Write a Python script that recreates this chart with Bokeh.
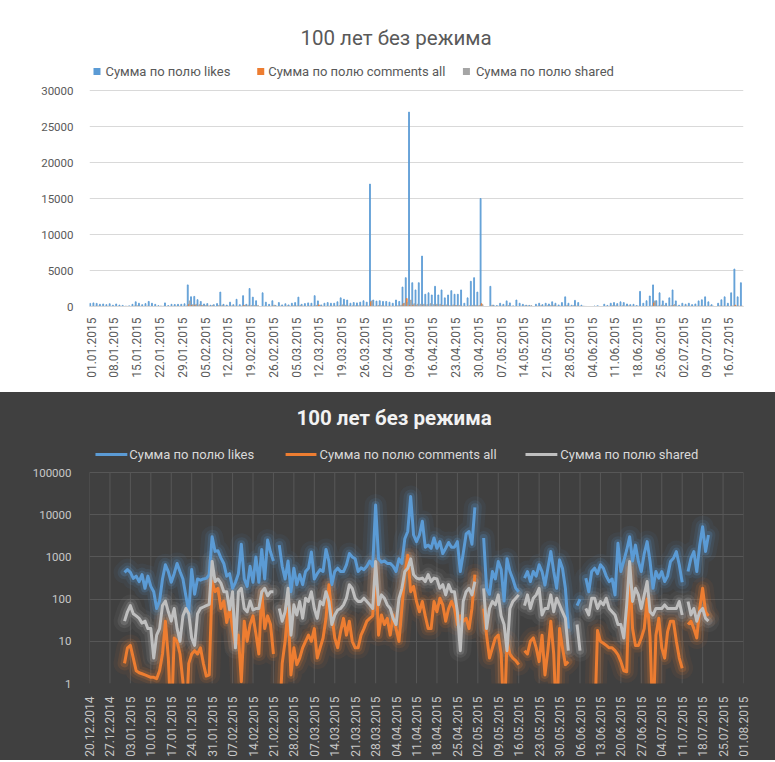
import numpy as np
from datetime import date
from bokeh.plotting import figure
from bokeh.layouts import column
from bokeh.models import Range1d, FixedTicker, PrintfTickFormatter, Label, ColumnDataSource
from bokeh.embed import file_html
from bokeh.resources import INLINE

nan = float("nan")

# ---------------- data (daily, starting 01.01.2015) ----------------
first_day = date(2015, 1, 1)

likes = [430, 500, 430, 310, 350, 260, 380, 180, 350, 200, 150, 60, 90, 300, 650, 450, 250, 400, 700, 450,
         300, 120, 50, 500, 130, 300, 280, 300, 310, 380, 3000, 1350, 1400, 950, 700, 350, 400, 180, 250, 400,
         2000, 300, 200, 600, 250, 1000, 250, 1500, 300, 2500, 1300, 800, nan, 1900, 600, 300,
         800, 150, 540, 220, 380, 220, 450, 540, 1300, 300, 400, 500, 450, 1500, 780, 220, 450, 540, 450, 450,
         650, 1200, 1000, 900, 450, 550, 500, 600, 800, 600, 17000, 900, 750, 800, 700, 700, 600, 450, 900, 700,
         2700, 4000, 27000, 3300, 2300, 3300, 7000, 1700, 1900, 1600, 2800, 1600, 2300, 1200, 1600, 2200, 1700,
         1700, 2300, 450, 1200, 3500, 4000, 2000, 15000, nan, nan, 2800, 180, 130, 450, 300, 780, 500, 90, 900,
         450, 300, 180, 150,
         nan, 315, 450, 260, 450, 350, 650, 450, 215, 540, 1340, 450, 180, 850, 540, 180, 20, nan, nan, 70, 100,
         nan, 315, 150, 450, 540, 400, 650, 540, 350, 260, 300, 126, 2100, 450, 800, 1460, 3000, 800, 1900, 780,
         450, 1200, 2300, 780, 180, 450, 315, 450, 260, 350, 780, 930, 1340, 650, 250, nan, 450, 930, 1340, 450,
         1900, 5200, 1340, 3300]

comments = [3, 7, 8, 4, 2, 1.8, 1.7, 1.6, 1.5, 1.4, 1.4, 1.3, 2, 5, 30, 4, 0, 12, 10, 5,
            1.1, 0, 3, 5, 6, 5, 7, 3, 1.5, 1.6, 260, 150, 180, 60, 90, 28, 60, 20, 8, 14,
            1.1, 30, 10, 25, 40, 15, 5, 150, 20, 40, 25, 5, nan, 0, 3, 10,
            60, 1.6, 7, 2.8, 4, 7, 10, 14, 10, 20, 4, 7, 12, 35, 220, 42, 12, 7, 17, 35,
            14, 30, 10, 7, 7, 14, 20, 30, 35, 40, 650, 14, 42, 25, 35, 14, 42, 20, 10, 60,
            380, 1100, 150, 200, 88, 50, 88, 40, 20, 20, 88, 50, 105, 73, 30, 60, 88, 60, 25, 40,
            30, 35, 20, 60, 380, nan, nan, 60, 14, 4, 7, 12, 14, 5, 0, 10, 5, 4, 3.5, 2.8,
            nan, 6, 5, 10, 12, 7, 3.3, 14, 1.6, 6, 30, 5, 0, 20, 7, 2.8, 3.3, nan, nan, nan,
            nan, nan, nan, nan, nan, 0, 18, 10, 9, 8, 7, 7, 6, 4.8, 3.3, 2, 1.9, 500, 20, 8,
            8, 12, 20, 100, 12, 0, 14, 35, 7, 4, 17, 30, 30, 10, 4, 2.3, nan, 25, 30, 20,
            12, 60, 180, 50, 40]

shared = [30, 50, 70, 45, 40, 35, 27, 30, 20, 20, 4, 14, 20, 70, 90, 50, 30, 60, 20, 10,
          40, 60, 45, 12, 8, 45, 60, 65, 70, 75, 780, 260, 300, 240, 150, 150, 56, 150, 7, 150,
          180, 60, 50, 90, 55, 60, 60, 150, 180, 120, 150, 150, nan, 60, 30, 50,
          180, 14, 73, 42, 88, 35, 105, 88, 150, 60, 35, 88, 73, 150, 88, 25, 42, 55, 60, 73,
          105, 220, 180, 105, 88, 88, 105, 88, 73, 60, 780, 73, 126, 105, 73, 60, 35, 25, 105, 180,
          450, 540, 900, 380, 315, 300, 315, 260, 380, 260, 315, 300, 180, 220, 126, 220, 150, 150, 50, 6,
          88, 150, 180, 126, 260, nan, nan, 180, 20, 60, 88, 73, 126, 40, 25, 6, 60, 88, 105, 126,
          nan, 70, 126, 60, 105, 126, 180, 42, 60, 60, 126, 50, 105, 73, 50, 35, 6, nan, nan, 25,
          6, nan, 60, 42, 105, 105, 60, 88, 73, 105, 60, 50, 42, 25, 25, 12, 73, 780, 88, 180,
          126, 60, 126, 260, 50, 42, 60, 60, 60, 73, 60, 60, 60, 60, 88, 42, nan, 88, 42, 60,
          30, 50, 60, 35, 30]

series_names = ["Сумма по полю likes", "Сумма по полю comments all", "Сумма по полю shared"]
chart_title = "100 лет без режима"

top_tick_labels = ["01.01.2015", "08.01.2015", "15.01.2015", "22.01.2015", "29.01.2015", "05.02.2015",
                   "12.02.2015", "19.02.2015", "26.02.2015", "05.03.2015", "12.03.2015", "19.03.2015",
                   "26.03.2015", "02.04.2015", "09.04.2015", "16.04.2015", "23.04.2015", "30.04.2015",
                   "07.05.2015", "14.05.2015", "21.05.2015", "28.05.2015", "04.06.2015", "11.06.2015",
                   "18.06.2015", "25.06.2015", "02.07.2015", "09.07.2015", "16.07.2015"]
bottom_tick_labels = ["20.12.2014", "27.12.2014", "03.01.2015", "10.01.2015", "17.01.2015", "24.01.2015",
                      "31.01.2015", "07.02.2015", "14.02.2015", "21.02.2015", "28.02.2015", "07.03.2015",
                      "14.03.2015", "21.03.2015", "28.03.2015", "04.04.2015", "11.04.2015", "18.04.2015",
                      "25.04.2015", "02.05.2015", "09.05.2015", "16.05.2015", "23.05.2015", "30.05.2015",
                      "06.06.2015", "13.06.2015", "20.06.2015", "27.06.2015", "04.07.2015", "11.07.2015",
                      "18.07.2015", "25.07.2015", "01.08.2015"]
top_y_ticks = [0, 5000, 10000, 15000, 20000, 25000, 30000]
log_y_ticks = [1, 10, 100, 1000, 10000, 100000]

# ---------------- helpers ----------------
def day_offset(label):
    d, m, y = (int(s) for s in label.split("."))
    return (date(y, m, d) - first_day).days

FONT = "Roboto"
BLUE, ORANGE, GRAY = "#5B9BD5", "#ED7D31", "#A5A5A5"
GRAY_DARK = "#BFBFBF"
W = 775

n = len(likes)
x = np.arange(n, dtype=float)
L = np.array(likes, dtype=float)
C = np.array(comments, dtype=float)
S = np.array(shared, dtype=float)

# ======================= TOP: column chart =======================
T_LEFT, T_RIGHT, T_TOP, T_BOT, T_H = 88, 32, 6, 86, 392
t_frame_w = W - T_LEFT - T_RIGHT
t_frame_h = T_H - T_TOP - T_BOT
t_scale = 30000 / 216.0
x1_range = Range1d(-0.5, n - 0.5)
y1_range = Range1d(0, t_frame_h * t_scale)


def top_pt(px, py):
    """page pixel -> data coords of the top chart (for title/legend placement)"""
    xd = x1_range.start + (px - T_LEFT) * (x1_range.end - x1_range.start) / t_frame_w
    yd = (T_H - T_BOT - py) * t_scale
    return xd, yd


p1 = figure(width=W, height=T_H, output_backend="svg", toolbar_location=None,
            x_range=x1_range, y_range=y1_range,
            min_border_left=T_LEFT, min_border_right=T_RIGHT, min_border_top=T_TOP, min_border_bottom=T_BOT)
p1.outline_line_color = None
p1.background_fill_color = "white"
p1.border_fill_color = "white"

bar_src = ColumnDataSource(dict(xl=x - 0.3, xc=x, xs=x + 0.3,
                                likes=np.nan_to_num(L), comments=np.nan_to_num(C), shared=np.nan_to_num(S)))
p1.vbar(x="xl", top="likes", width=0.28, color=BLUE, alpha=0.85, source=bar_src)
p1.vbar(x="xc", top="comments", width=0.28, color=ORANGE, alpha=0.85, source=bar_src)
p1.vbar(x="xs", top="shared", width=0.28, color=GRAY, alpha=0.85, source=bar_src)

top_pos = [day_offset(s) for s in top_tick_labels]
p1.xaxis.ticker = FixedTicker(ticks=top_pos)
p1.xaxis.major_label_overrides = {pos: lab for pos, lab in zip(top_pos, top_tick_labels)}
p1.xaxis.major_label_orientation = np.pi / 2
p1.xaxis.axis_line_color = "#D9D9D9"
p1.xaxis.major_tick_line_color = None
p1.xaxis.minor_tick_line_color = None
p1.xaxis.major_label_standoff = 5
p1.xaxis.major_label_text_font_size = "12px"
p1.yaxis.ticker = FixedTicker(ticks=top_y_ticks)
p1.yaxis.formatter = PrintfTickFormatter(format="%d")
p1.yaxis.axis_line_color = None
p1.yaxis.major_tick_line_color = None
p1.yaxis.minor_tick_line_color = None
p1.yaxis.major_label_standoff = 10
p1.yaxis.major_label_text_font_size = "11.5px"
for ax in (p1.xaxis, p1.yaxis):
    ax.major_label_text_font = FONT
    ax.major_label_text_color = "#595959"
p1.xgrid.grid_line_color = None
p1.ygrid.grid_line_color = "#D9D9D9"

tx, ty = top_pt(395, 37)
p1.add_layout(Label(x=tx, y=ty, text=chart_title, text_align="center", text_baseline="middle",
                    text_font=FONT, text_font_size="20.5px", text_color="#595959"))
top_legend_px = [(95.5, 104), (259.5, 267), (465.5, 475)]   # (square centre, text start)
for (sq, tpx), name, col in zip(top_legend_px, series_names, [BLUE, ORANGE, GRAY]):
    sx, sy = top_pt(sq, 71)
    p1.scatter([sx], [sy], marker="square", size=7, color=col, line_color=None)
    lx, ly = top_pt(tpx, 71)
    p1.add_layout(Label(x=lx, y=ly, text=name, text_align="left", text_baseline="middle",
                        text_font=FONT, text_font_size="13px", text_color="#595959"))

# ======================= BOTTOM: log line chart =======================
BG = "#404040"
B_LEFT, B_RIGHT, B_TOP, B_BOT, B_H = 89, 29, 6, 77, 368
b_frame_w = W - B_LEFT - B_RIGHT
b_frame_h = B_H - B_TOP - B_BOT
DEC = 42.2                        # pixels per decade
x2_range = Range1d(-12, 212)
y2_range = Range1d(1, 10 ** (b_frame_h / DEC))


def bot_pt(px, py):
    """pixel position inside the bottom panel (py relative to page) -> data coords"""
    xd = x2_range.start + (px - B_LEFT) * (x2_range.end - x2_range.start) / b_frame_w
    yd = 10 ** ((T_H + B_H - B_BOT - py) / DEC)
    return xd, yd


p2 = figure(width=W, height=B_H, output_backend="svg", toolbar_location=None, y_axis_type="log",
            x_range=x2_range, y_range=y2_range,
            min_border_left=B_LEFT, min_border_right=B_RIGHT, min_border_top=B_TOP, min_border_bottom=B_BOT)
p2.outline_line_color = None
p2.background_fill_color = BG
p2.border_fill_color = BG
p2.styles = {"background-color": BG}

bot_pos = [day_offset(s) for s in bottom_tick_labels]
# vertical grid lines only over the value area (1 .. 100000)
p2.segment(x0=bot_pos, y0=[log_y_ticks[0]] * len(bot_pos), x1=bot_pos, y1=[log_y_ticks[-1]] * len(bot_pos),
           line_color="#575757", line_width=1)

C_plot = np.where(C == 0, 0.1, C)   # zero comments drop below the log axis
lines = [(L, BLUE), (C_plot, ORANGE), (S, GRAY_DARK)]
for yv, col in lines:
    for w, a in [(22, 0.06), (14, 0.11), (8, 0.2)]:
        p2.line(x, yv, line_width=w, line_alpha=a, color=col, line_join="round", line_cap="round")
for yv, col in lines:
    p2.line(x, yv, line_width=3, color=col, line_join="round")

p2.xaxis.ticker = FixedTicker(ticks=bot_pos)
p2.xaxis.major_label_overrides = {pos: lab for pos, lab in zip(bot_pos, bottom_tick_labels)}
p2.xaxis.major_label_orientation = np.pi / 2
p2.xaxis.major_label_standoff = 7
p2.xaxis.major_label_text_font_size = "12px"
p2.yaxis.ticker = FixedTicker(ticks=log_y_ticks)
p2.yaxis.formatter = PrintfTickFormatter(format="%d")
p2.yaxis.major_label_standoff = 12
p2.yaxis.major_label_text_font_size = "11.5px"
for ax in (p2.xaxis, p2.yaxis):
    ax.axis_line_color = None
    ax.major_tick_line_color = None
    ax.minor_tick_line_color = None
    ax.major_label_text_font = FONT
    ax.major_label_text_color = "#C8C8C8"
p2.xgrid.grid_line_color = None
p2.ygrid.grid_line_color = "#575757"

bx, by = bot_pt(395, 417)
p2.add_layout(Label(x=bx, y=by, text=chart_title, text_align="center", text_baseline="middle",
                    text_font=FONT, text_font_style="bold", text_font_size="20.5px", text_color="#F2F2F2"))
bot_legend_px = [(95, 127, 129), (286, 317, 320), (527, 559, 562)]   # (line start, line end, text start)
for (l0, l1, tpx), name, col in zip(bot_legend_px, series_names, [BLUE, ORANGE, GRAY_DARK]):
    ax0, ay = bot_pt(l0, 454)
    ax1, _ = bot_pt(l1, 454)
    p2.segment(x0=[ax0], y0=[ay], x1=[ax1], y1=[ay], line_color=col, line_width=3)
    lx, ly = bot_pt(tpx, 454)
    p2.add_layout(Label(x=lx, y=ly, text=name, text_align="left", text_baseline="middle",
                        text_font=FONT, text_font_size="13px", text_color="#D9D9D9"))

layout = column(p1, p2, spacing=0)
open("out.html", "w").write(file_html(layout, INLINE))
